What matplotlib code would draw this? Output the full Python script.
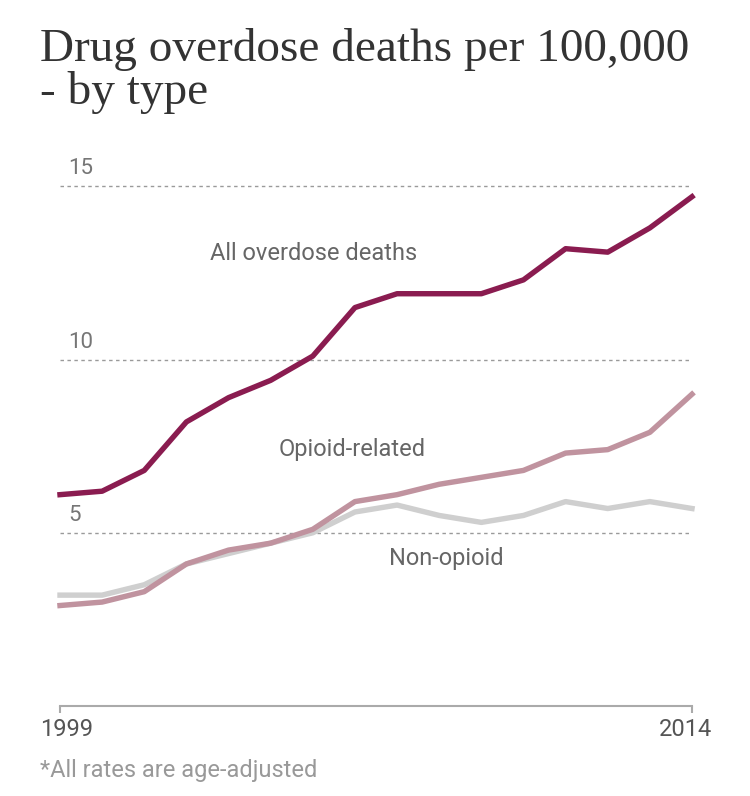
import matplotlib
matplotlib.use("Agg")
import matplotlib.pyplot as plt
import matplotlib.transforms as mtrans

# data: age-adjusted drug overdose death rates per 100,000
years = list(range(1999, 2015))
all_deaths = [6.1, 6.2, 6.8, 8.2, 8.9, 9.4, 10.1, 11.5, 11.9, 11.9, 11.9, 12.3, 13.2, 13.1, 13.8, 14.7]
opioid = [2.9, 3.0, 3.3, 4.1, 4.5, 4.7, 5.1, 5.9, 6.1, 6.4, 6.6, 6.8, 7.3, 7.4, 7.9, 9.0]
non_opioid = [3.2, 3.2, 3.5, 4.1, 4.4, 4.7, 5.0, 5.6, 5.8, 5.5, 5.3, 5.5, 5.9, 5.7, 5.9, 5.7]
grid_values = [5, 10, 15]

sans = ['Roboto', 'DejaVu Sans']
serif = ['Liberation Serif', 'DejaVu Serif']

fig = plt.figure(figsize=(7.5, 7.96), dpi=100)
ax = fig.add_axes([60 / 750, 90 / 796, 632 / 750, 537 / 796])
ax.set_xlim(1999, 2014)
ax.set_ylim(0, 15.5)

# gridlines + their labels
for v in grid_values:
    ax.axhline(v, color='#9a9a9a', lw=1, linestyle=(0, (2.5, 2.5)), zorder=1)
    ax.annotate(str(v), xy=(0, v), xycoords=('axes fraction', 'data'),
                xytext=(6, 5), textcoords='offset points', ha='left', va='bottom',
                fontsize=16, color='#767676', family=sans)

# lines
ax.plot(years, non_opioid, color='#cfcfcf', lw=3.9, zorder=2, clip_on=False)
ax.plot(years, opioid, color='#c0939f', lw=3.9, zorder=3, clip_on=False)
ax.plot(years, all_deaths, color='#8a1c50', lw=3.9, zorder=4, clip_on=False)

# direct labels
ax.text(2002.55, 13.05, 'All overdose deaths', fontsize=17, color='#666666', family=sans, va='center')
ax.text(2004.2, 7.4, 'Opioid-related', fontsize=17, color='#666666', family=sans, va='center')
ax.text(2006.8, 4.25, 'Non-opioid', fontsize=17, color='#666666', family=sans, va='center')

# axes styling
for s in ['top', 'right', 'left']:
    ax.spines[s].set_visible(False)
ax.spines['bottom'].set_color('#aaaaaa')
ax.spines['bottom'].set_linewidth(1.5)
ax.set_yticks([])
ax.set_xticks([1999, 2014])
ax.set_xticklabels(['1999', '2014'], fontsize=17, color='#555555', family=sans)
ax.tick_params(axis='x', direction='out', length=5, width=1.5, color='#aaaaaa', pad=4)
labs = ax.get_xticklabels()
labs[0].set_ha('left')
labs[0].set_transform(labs[0].get_transform() + mtrans.ScaledTranslation(-20 / 100, 0, fig.dpi_scale_trans))
labs[1].set_ha('right')
labs[1].set_transform(labs[1].get_transform() + mtrans.ScaledTranslation(20 / 100, 0, fig.dpi_scale_trans))

# title and footnote
fig.text(40 / 750, 1 - 28 / 796, 'Drug overdose deaths per 100,000\n- by type', fontsize=34,
         color='#333333', family=serif, ha='left', va='top', linespacing=1.0)
fig.text(40 / 750, 1 - 771 / 796, '*All rates are age-adjusted', fontsize=17,
         color='#999999', family=sans, ha='left', va='center')

fig.savefig('out.png', dpi=100, facecolor='white')
